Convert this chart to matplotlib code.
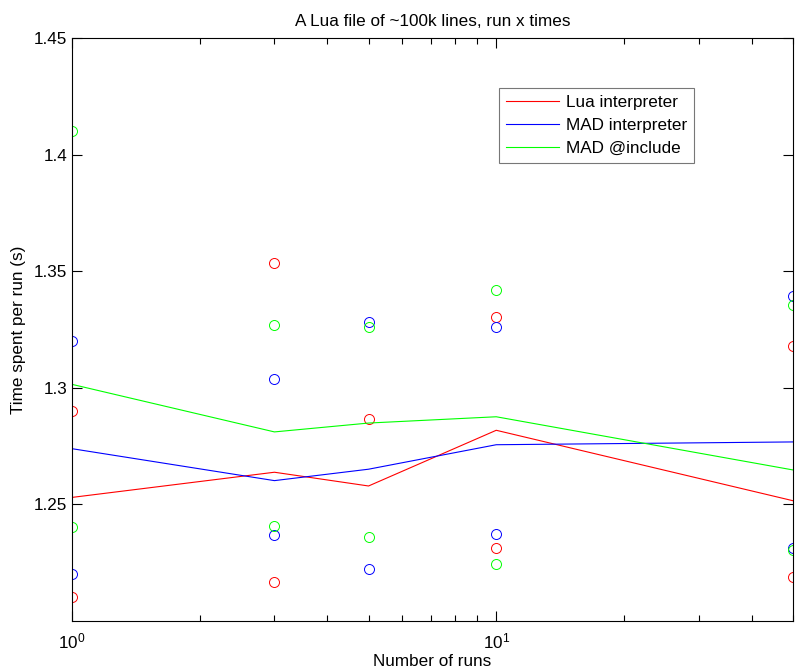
import matplotlib
matplotlib.use("Agg")
import matplotlib.pyplot as plt
from matplotlib.ticker import LogLocator, NullFormatter, FixedLocator

plt.rcParams['font.family'] = ['Liberation Sans', 'DejaVu Sans']

runs = [1, 3, 5, 10, 50]

lua_mean = [1.2529, 1.2637, 1.2578, 1.2817, 1.2515]
lua_max = [1.290, 1.3536, 1.2864, 1.3304, 1.3179]
lua_min = [1.2103, 1.2167, None, 1.2313, 1.2186]

mad_mean = [1.2738, 1.2601, 1.2650, 1.2755, 1.2767]
mad_max = [1.320, 1.3036, 1.3282, 1.3259, 1.3394]
mad_min = [1.220, 1.2368, 1.2222, 1.2371, 1.2310]

inc_mean = [1.3014, 1.2810, 1.2848, 1.2875, 1.2647]
inc_max = [1.410, 1.3267, 1.3259, 1.342, 1.3356]
inc_min = [1.2402, 1.2405, 1.2360, 1.2242, 1.2303]

labels = ['Lua interpreter', 'MAD interpreter', 'MAD @include']
colors = ['#ff0000', '#0000ff', '#00ff00']

fig = plt.figure(figsize=(8.04, 6.68), dpi=100)
ax = fig.add_axes([0.0896, 0.0708, 0.8964, 0.8723])

series = [(lua_mean, lua_max, lua_min), (mad_mean, mad_max, mad_min), (inc_mean, inc_max, inc_min)]
for (mean, mx, mn), c, lab in zip(series, colors, labels):
    ax.plot(runs, mean, color=c, lw=0.8, label=lab)
    for vals in (mx, mn):
        xs = [r for r, v in zip(runs, vals) if v is not None]
        ys = [v for v in vals if v is not None]
        ax.plot(xs, ys, linestyle='none', marker='o', mfc='none', mec=c, ms=7.2, mew=0.7)

ax.set_xscale('log')
ax.set_xlim(1, 50)
ax.set_ylim(1.2, 1.45)
ax.yaxis.set_major_locator(FixedLocator([1.25, 1.3, 1.35, 1.4, 1.45]))
ax.set_yticklabels(['1.25', '1.3', '1.35', '1.4', '1.45'])
ax.xaxis.set_major_locator(LogLocator(base=10, numticks=10))
ax.xaxis.set_minor_locator(LogLocator(base=10, subs=range(2, 10), numticks=10))
ax.xaxis.set_minor_formatter(NullFormatter())

fs = 12.3
ax.tick_params(which='both', direction='in', top=True, right=True, labelsize=fs, width=0.8)
ax.tick_params(which='major', length=7)
ax.tick_params(which='minor', length=4)
ax.tick_params(axis='x', pad=8)
for s in ax.spines.values():
    s.set_linewidth(0.8)

ax.set_title('A Lua file of ~100k lines, run x times', fontsize=fs, pad=9)
ax.set_xlabel('Number of runs', fontsize=fs, labelpad=2)
ax.set_ylabel('Time spent per run (s)', fontsize=fs, labelpad=6)

leg = ax.legend(loc='upper left', bbox_to_anchor=(0.5925, 0.914), borderaxespad=0,
                fontsize=fs, frameon=True, fancybox=False, handlelength=3.1,
                handletextpad=0.4, labelspacing=0.47, borderpad=0.4)
leg.get_frame().set_edgecolor('#555555')
leg.get_frame().set_linewidth(0.8)

fig.savefig('out.png', dpi=100)
